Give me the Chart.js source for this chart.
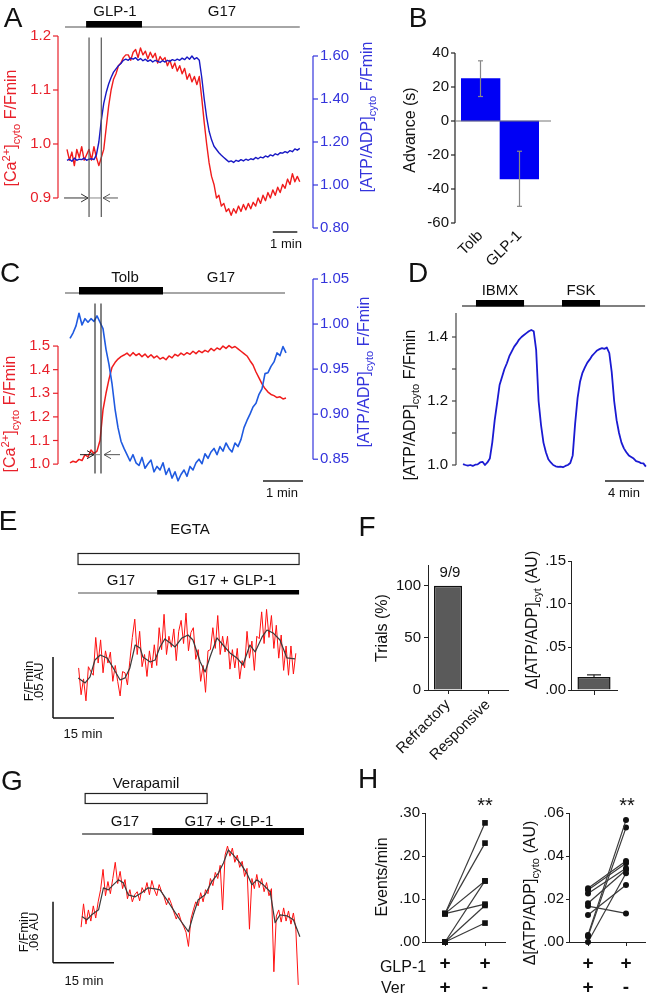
<!DOCTYPE html>
<html><head><meta charset="utf-8">
<script src="https://cdn.jsdelivr.net/npm/chart.js@4/dist/chart.umd.min.js"></script>
<style>
html,body{margin:0;padding:0;background:#fff;}
body{width:656px;height:996px;position:relative;overflow:hidden;font-family:"Liberation Sans",Arial,Helvetica,sans-serif;}
canvas{position:absolute;}
.t{position:absolute;white-space:nowrap;transform:translate(-50%,-50%);line-height:1;}
.r{transform:translate(-50%,-50%) rotate(-90deg);}
sub,sup{font-size:70%;line-height:0;}
</style></head><body>
<script>
// ---------------- DATA ----------------
// Panel A (sampled every 0.1 min)
const aDt = 0.1;
const aCa = [0.99,0.97,0.985,0.96,0.99,0.975,0.995,0.97,0.98,0.99,
 0.97,0.995,0.975,0.96,0.975,0.99,1.03,1.07,1.1,1.12,
 1.13,1.145,1.15,1.16,1.165,1.165,1.155,1.17,1.175,1.16,
 1.178,1.165,1.172,1.158,1.17,1.16,1.168,1.15,1.162,1.155,
 1.16,1.145,1.155,1.14,1.15,1.135,1.145,1.13,1.14,1.12,
 1.13,1.115,1.125,1.11,1.125,1.085,1.04,1.0,0.965,0.94,
 0.925,0.9,0.905,0.885,0.89,0.875,0.88,0.868,0.88,0.872,
 0.885,0.875,0.888,0.878,0.89,0.88,0.892,0.885,0.9,0.89,
 0.905,0.895,0.91,0.9,0.915,0.905,0.92,0.91,0.925,0.918,
 0.935,0.925,0.945,0.93,0.94,0.93];
const aAtp = [1.115,1.12,1.11,1.125,1.115,1.12,1.118,1.125,1.115,1.12,1.122,1.118,
 1.14,1.2,1.3,1.38,1.43,1.47,1.5,1.525,1.54,1.555,1.565,1.58,
 1.585,1.58,1.59,1.585,1.592,1.58,1.588,1.578,1.585,1.575,1.582,1.572,1.58,1.575,1.57,1.578,
 1.572,1.58,1.575,1.583,1.578,1.585,1.58,1.59,1.583,1.595,1.585,1.6,1.585,1.592,
 1.58,1.5,1.4,1.315,1.25,1.21,1.18,1.165,1.15,1.138,1.128,1.118,1.108,
 1.112,1.105,1.115,1.11,1.118,1.112,1.12,1.115,1.122,1.118,1.128,1.122,1.13,1.126,1.135,1.13,
 1.14,1.135,1.145,1.14,1.15,1.148,1.155,1.15,1.16,1.155,1.168,1.162,1.17];
const aRedTicks = [0.9,1.0,1.1,1.2];
const aBlueTicks = [0.8,1.0,1.2,1.4,1.6];
const aBase = [-0.08, 9.5], aGlp = [0.78, 3.06], aMarks = [0.9, 1.4], aScale = [8.4, 9.4];

// Panel B
const bCats = ['Tolb','GLP-1'];
const bMeans = [24.9, -34];
const bErr = [10.5, 16.2];
const bTicks = [40,20,0,-20,-40,-60];

// Panel C (sampled every 0.075 min)
const cDt = 0.075;
const cAtp = [0.984,0.99,0.998,1.012,0.999,1.006,1.002,1.006,1.003,1.009,
 1.002,0.995,0.972,0.955,0.934,0.906,0.885,0.87,0.862,0.855,
 0.848,0.855,0.846,0.843,0.852,0.84,0.845,0.849,0.836,0.842,
 0.838,0.846,0.833,0.84,0.829,0.836,0.826,0.833,0.838,0.831,
 0.842,0.838,0.846,0.85,0.845,0.856,0.851,0.858,0.862,0.855,
 0.864,0.859,0.868,0.862,0.858,0.868,0.864,0.872,0.885,0.893,
 0.9,0.908,0.912,0.922,0.928,0.945,0.946,0.953,0.958,0.968,
 0.965,0.975,0.968];
const cCa = [1.005,1.012,1.008,1.02,1.015,1.04,1.03,1.06,1.045,1.055,
 1.1,1.23,1.3,1.36,1.41,1.43,1.445,1.455,1.462,1.47,
 1.458,1.472,1.46,1.468,1.455,1.466,1.452,1.463,1.45,1.458,
 1.445,1.452,1.442,1.458,1.45,1.465,1.458,1.47,1.462,1.472,
 1.465,1.478,1.468,1.48,1.472,1.482,1.475,1.49,1.48,1.492,
 1.485,1.5,1.49,1.502,1.492,1.498,1.488,1.478,1.468,1.458,
 1.438,1.42,1.39,1.365,1.34,1.32,1.305,1.295,1.29,1.282,
 1.285,1.276,1.28];
const cRedTicks = [1.0,1.1,1.2,1.3,1.4,1.5];
const cBlueTicks = [0.85,0.9,0.95,1.0,1.05];
const cBase = [-0.125, 5.375], cTolb = [0.225, 2.325], cMarks = [0.625, 0.775], cScale = [4.825, 5.825];

// Panel D (sampled every 0.25 min)
const dDt = 0.25;
const dAtp = [1.003,1.0,0.998,1.0,0.997,1.001,1.002,1.008,1.01,1.0,
 1.008,1.02,1.07,1.14,1.194,1.25,1.275,1.3,1.318,1.34,
 1.355,1.37,1.38,1.392,1.4,1.406,1.412,1.418,1.422,1.418,
 1.36,1.2,1.125,1.07,1.04,1.018,1.008,1.0,0.996,0.994,
 0.995,0.993,0.997,1.0,1.006,1.03,1.13,1.21,1.26,1.288,
 1.305,1.32,1.33,1.342,1.35,1.358,1.362,1.365,1.363,1.367,
 1.35,1.29,1.2,1.14,1.1,1.07,1.052,1.04,1.03,1.025,
 1.02,1.012,1.01,1.006,1.005,0.995];
const dTicks = [1.0,1.1,1.2,1.3,1.4];
const dBase = [-0.1, 18.67], dIbmx = [1.33, 6.26], dFsk = [10.15, 14.05], dScale = [14.56, 18.56];

// Panel E (raw sampled every 0.6 min; smoothed curve)
const eDt = 0.6;
const eRaw = [1.041,1.019,1.032,1.014,1.042,1.038,1.035,1.066,1.045,1.064,
 1.037,1.055,1.045,1.054,1.030,1.043,1.030,1.018,1.038,1.037,
 1.027,1.047,1.066,1.081,1.052,1.071,1.042,1.052,1.034,1.055,
 1.041,1.060,1.043,1.074,1.056,1.085,1.052,1.067,1.058,1.073,
 1.047,1.071,1.080,1.061,1.086,1.055,1.070,1.074,1.048,1.056,
 1.030,1.043,1.021,1.055,1.056,1.074,1.057,1.084,1.052,1.067,
 1.054,1.067,1.040,1.056,1.041,1.057,1.032,1.047,1.041,1.071,
 1.049,1.063,1.039,1.067,1.065,1.087,1.061,1.089,1.066,1.084,
 1.057,1.076,1.049,1.068,1.039,1.059,1.035,1.059,1.036,1.053];
const eSmoothT = [-0.1,1.6,2.8,4.0,5.3,7.0,8.5,10.2,11.4,12.6,13.9,15.1,15.8,17.6,18.8,20.0,21.2,22.5,23.7,25.4,26.9,28.1,29.9,31.1,32.3,34.0,35.5,37.2,38.9,40.4,42.1,43.4,45.1,46.3,47.8,49.5,51.2,53.2];
const eSmoothV = [1.0328,1.0287,1.0336,1.0475,1.0516,1.0492,1.041,1.0311,1.0328,1.041,1.0598,1.0574,1.05,1.0459,1.0475,1.0582,1.0648,1.0615,1.0582,1.0656,1.068,1.0639,1.0459,1.0377,1.05,1.0656,1.0598,1.0533,1.0492,1.0434,1.0598,1.0541,1.0664,1.0721,1.0697,1.0639,1.0492,1.0484];
const eEgta = [-0.15, 54.2], eBase = [-0.15, 54.2], eSwitch = 19.3, eScaleT = [-6.3, 8.7], eScaleV = [1.0, 1.05];

// Panel F
const fCats = ['Refractory','Responsive'];
const fPct = [100, 0];
const fTicks = [0,50,100];
const fDelta = [0.0151];
const fDeltaErr = [0.0025];
const fDeltaTicks = [0,0.05,0.10,0.15];

// Panel G
const gDt = 0.6;
const gRaw = [1.035,1.058,1.038,1.052,1.041,1.056,1.044,1.06,1.072,1.092,
 1.066,1.08,1.068,1.083,1.099,1.078,1.09,1.073,1.082,1.063,
 1.072,1.06,1.067,1.07,1.061,1.074,1.069,1.079,1.067,1.081,
 1.072,1.066,1.077,1.07,1.065,1.057,1.064,1.058,1.05,1.043,
 1.049,1.041,1.036,1.03,1.016,1.043,1.052,1.06,1.056,1.069,
 1.06,1.072,1.068,1.083,1.076,1.089,1.083,1.096,1.052,1.106,
 1.115,1.105,1.113,1.099,1.106,1.094,1.1,1.085,1.093,1.033,
 1.083,1.073,1.087,1.074,1.083,1.07,1.079,1.066,1.073,0.991,
 1.046,1.052,1.04,1.054,1.041,1.051,1.038,1.049,1.033,0.978];
const gSmoothT = [0.2,1.4,2.6,4.3,5.5,6.7,7.9,9.2,10.4,11.6,13.3,14.9,16.5,18.2,19.4,21.1,22.7,24.3,26.4,27.6,28.8,30.5,32.1,33.8,35.0,36.2,37.4,39.1,40.7,42.0,43.2,44.8,46.5,47.7,48.9,50.6,52.2,53.8];
const gSmoothV = [1.0456,1.0423,1.0472,1.0521,1.0738,1.0718,1.0767,1.0817,1.0787,1.0669,1.0649,1.0689,1.0738,1.0728,1.0718,1.062,1.0521,1.0423,1.0305,1.0472,1.062,1.0669,1.0797,1.0886,1.0984,1.1112,1.1063,1.0984,1.0886,1.0768,1.0817,1.0768,1.0699,1.0394,1.0472,1.0462,1.0423,1.0256];
const gVer = [1.0, 31.0], gBase = [0.25, 54.8], gSwitch = 17.5, gScaleT = [-6.9, 8.1], gScaleV = [1.0, 1.06];

// Panel H
const hCats = [['+','+'],['+','-']];
const hEvVer   = [0.066,0.066,0.066,0.066,0,0,0];
const hEvNoVer = [0.277,0.230,0.142,0.088,0.142,0.085,0.044];
const hEvTicks = [0,0.1,0.2,0.3];
const hAtpVer   = [0.0033,0.0026,0.0,0.025,0.0242,0.0226,0.018,0.0167,0.0126];
const hAtpNoVer = [0.0567,0.0532,0.032,0.0377,0.0366,0.0343,0.0335,0.0133,0.0265];
const hAtpTicks = [0,0.02,0.04,0.06];

// ---------------- STYLE ----------------
const RED = '#f01c1c', RED_TXT = '#e8202a';
const BLUE_A = '#1818c4', BLUE_TXT = '#3434dc';
const BLUE_C = '#1f5ae0';
const FONT = '"Liberation Sans", Arial, Helvetica, sans-serif';
Chart.defaults.font.family = FONT;
Chart.defaults.font.size = 15;
Chart.defaults.color = '#111';
Chart.defaults.plugins.legend.display = false;
Chart.defaults.plugins.tooltip.enabled = false;

const ts = (vals, dt, t0 = 0) => vals.map((v, i) => ({x: t0 + i * dt, y: v}));
const xy = (xs, ys) => xs.map((x, i) => ({x, y: ys[i]}));
const noLead = d => v => v.toFixed(d).replace(/^0/, '').replace(/^-0/, '-');

function mk(left, top, w, h, config) {
  const c = document.createElement('canvas');
  c.width = w; c.height = h;
  c.style.left = left + 'px'; c.style.top = top + 'px';
  c.style.width = w + 'px'; c.style.height = h + 'px';
  document.body.appendChild(c);
  config.options = Object.assign({responsive: false, animation: false, devicePixelRatio: 1, events: []}, config.options);
  return new Chart(c.getContext('2d'), config);
}
function yAxis({min, max, ticks, width, pos = 'left', color = '#111', fmt, pad = 6}) {
  return {type: 'linear', position: pos, min, max,
    grid: {display: false, drawTicks: false}, border: {display: false},
    ticks: {color, padding: pad, autoSkip: false, callback: fmt || (v => v)},
    afterBuildTicks: s => { s.ticks = ticks.map(v => ({value: v})); },
    afterFit: s => { s.width = width; }};
}
function seg(ctx, x1, y1, x2, y2, color, lw) {
  ctx.save(); ctx.strokeStyle = color; ctx.lineWidth = lw; ctx.beginPath();
  ctx.moveTo(x1, y1); ctx.lineTo(x2, y2); ctx.stroke(); ctx.restore();
}
function rect(ctx, x1, y1, x2, y2, fill, stroke, lw) {
  ctx.save();
  if (fill) { ctx.fillStyle = fill; ctx.fillRect(x1, y1, x2 - x1, y2 - y1); }
  if (stroke) { ctx.strokeStyle = stroke; ctx.lineWidth = lw || 1; ctx.strokeRect(x1, y1, x2 - x1, y2 - y1); }
  ctx.restore();
}
function arrow(ctx, xFrom, xTo, y, color) {
  seg(ctx, xFrom, y, xTo, y, color, 1);
  const d = xTo > xFrom ? -1 : 1;
  seg(ctx, xTo, y, xTo + d * 7, y - 4, color, 1);
  seg(ctx, xTo, y, xTo + d * 7, y + 4, color, 1);
}
function spine(ch, id, {x, from, to, ticks, len = 5, color = '#222', side = 'left', lw = 1.2}) {
  const s = ch.scales[id], ctx = ch.ctx;
  const xx = Math.round(x);
  seg(ctx, xx, s.getPixelForValue(from), xx, s.getPixelForValue(to), color, lw);
  const d = side === 'left' ? -len : len;
  ticks.forEach(v => { const y = s.getPixelForValue(v); seg(ctx, xx, y, xx + d, y, color, lw); });
}
function txt(x, y, html, o = {}) {
  const d = document.createElement('div');
  d.className = 't' + (o.rot ? ' r' : '');
  d.style.left = x + 'px'; d.style.top = y + 'px';
  d.style.fontSize = (o.size || 15) + 'px';
  d.style.color = o.color || '#111';
  if (o.weight) d.style.fontWeight = o.weight;
  d.innerHTML = html;
  document.body.appendChild(d);
}
const lineEl = {point: {radius: 0}, line: {tension: 0, borderJoinStyle: 'round'}};

// ---------------- PANEL A ----------------
mk(0, 0, 360, 250, {
  type: 'line',
  data: {datasets: [
    {data: ts(aAtp, aDt), yAxisID: 'yB', borderColor: BLUE_A, borderWidth: 1.4},
    {data: ts(aCa, aDt), yAxisID: 'yR', borderColor: RED, borderWidth: 1.4}
  ]},
  options: {
    layout: {padding: {top: 36, bottom: 22, left: 0, right: 0}, autoPadding: false},
    elements: lineEl,
    scales: {
      x: {type: 'linear', min: -0.367, max: 10.04, display: false},
      yR: yAxis({min: 0.8444, max: 1.2, ticks: aRedTicks, width: 58, color: RED_TXT, fmt: v => v.toFixed(1), pad: 7}),
      yB: yAxis({pos: 'right', min: 0.8, max: 1.693, ticks: aBlueTicks, width: 47, color: BLUE_TXT, fmt: v => v.toFixed(2), pad: 7})
    }
  },
  plugins: [{id: 'aDeco', afterDatasetsDraw(ch) {
    const ctx = ch.ctx, X = ch.scales.x, R = ch.scales.yR, ca = ch.chartArea;
    const px = v => X.getPixelForValue(v);
    spine(ch, 'yR', {x: ca.left, from: 0.9, to: 1.2, ticks: aRedTicks, color: RED_TXT});
    spine(ch, 'yB', {x: ca.right, from: 0.8, to: 1.6, ticks: aBlueTicks, color: BLUE_TXT, side: 'right'});
    seg(ctx, px(aBase[0]), 27, px(aBase[1]), 27, '#888', 1.5);
    rect(ctx, px(aGlp[0]), 21, px(aGlp[1]), 27.5, '#000');
    aMarks.forEach(t => seg(ctx, px(t), R.getPixelForValue(1.197), px(t), R.getPixelForValue(0.865), '#555', 1.2));
    const ya = R.getPixelForValue(0.9);
    seg(ctx, px(aMarks[0]), ya, px(aMarks[1]), ya, '#888', 1);
    arrow(ctx, px(-0.12), px(0.86), ya, '#333');
    arrow(ctx, px(2.08), px(1.47), ya, '#555');
    seg(ctx, px(aScale[0]), 232, px(aScale[1]), 232, '#222', 1.5);
  }}]
});

// ---------------- PANEL B ----------------
mk(400, 0, 256, 290, {
  type: 'bar',
  data: {labels: bCats, datasets: [{data: bMeans, backgroundColor: '#0000f5', borderWidth: 0, barPercentage: 1, categoryPercentage: 1}]},
  options: {
    layout: {padding: {top: 53, bottom: 0, left: 0, right: 117}, autoPadding: false},
    scales: {
      x: {grid: {display: false, drawTicks: false}, border: {display: false},
          ticks: {minRotation: 45, maxRotation: 45, padding: 4, autoSkip: false},
          afterFit: s => { s.height = 67; }},
      y: yAxis({min: -60, max: 40, ticks: bTicks, width: 61, pad: 12})
    }
  },
  plugins: [{id: 'bDeco', afterDatasetsDraw(ch) {
    const ctx = ch.ctx, Y = ch.scales.y, ca = ch.chartArea;
    spine(ch, 'y', {x: ca.left - 6, from: -60, to: 40, ticks: bTicks, len: 4, color: '#222'});
    seg(ctx, ca.left - 6, Y.getPixelForValue(0), ca.right + 12, Y.getPixelForValue(0), '#777', 1);
    const meta = ch.getDatasetMeta(0);
    bMeans.forEach((m, i) => {
      const x = meta.data[i].x, y1 = Y.getPixelForValue(m - bErr[i]), y2 = Y.getPixelForValue(m + bErr[i]);
      seg(ctx, x, y1, x, y2, '#888', 1.2);
      seg(ctx, x - 2.5, y1, x + 2.5, y1, '#888', 1.2);
      seg(ctx, x - 2.5, y2, x + 2.5, y2, '#888', 1.2);
    });
  }}]
});

// ---------------- PANEL C ----------------
mk(0, 260, 360, 240, {
  type: 'line',
  data: {datasets: [
    {data: ts(cAtp, cDt), yAxisID: 'yB', borderColor: BLUE_C, borderWidth: 1.6},
    {data: ts(cCa, cDt), yAxisID: 'yR', borderColor: RED, borderWidth: 1.5}
  ]},
  options: {
    layout: {padding: {top: 19, bottom: 5, left: 0, right: 0}, autoPadding: false},
    elements: lineEl,
    scales: {
      x: {type: 'linear', min: -0.3, max: 6.075, display: false},
      yR: yAxis({min: 0.92, max: 1.784, ticks: cRedTicks, width: 58, color: RED_TXT, fmt: v => v.toFixed(1), pad: 8}),
      yB: yAxis({pos: 'right', min: 0.8236, max: 1.05, ticks: cBlueTicks, width: 47, color: BLUE_TXT, fmt: v => v.toFixed(2), pad: 7})
    }
  },
  plugins: [{id: 'cDeco', afterDatasetsDraw(ch) {
    const ctx = ch.ctx, X = ch.scales.x, R = ch.scales.yR, ca = ch.chartArea;
    const px = v => X.getPixelForValue(v);
    spine(ch, 'yR', {x: ca.left, from: 1.0, to: 1.5, ticks: cRedTicks, color: RED_TXT});
    spine(ch, 'yB', {x: ca.right, from: 0.85, to: 1.05, ticks: cBlueTicks, color: BLUE_TXT, side: 'right'});
    seg(ctx, px(cBase[0]), 33, px(cBase[1]), 33, '#888', 1.5);
    rect(ctx, px(cTolb[0]), 27, px(cTolb[1]), 34.5, '#000');
    cMarks.forEach(t => seg(ctx, px(t), R.getPixelForValue(1.68), px(t), R.getPixelForValue(0.96), '#333', 1.2));
    const ya = R.getPixelForValue(1.04);
    seg(ctx, px(cMarks[0]), ya, px(cMarks[1]), ya, '#888', 1);
    arrow(ctx, px(0.25), px(0.6), ya, '#222');
    arrow(ctx, px(1.25), px(0.85), ya, '#555');
    seg(ctx, px(cScale[0]), 221, px(cScale[1]), 221, '#222', 1.5);
  }}]
});

// ---------------- PANEL D ----------------
mk(400, 270, 256, 230, {
  type: 'line',
  data: {datasets: [{data: ts(dAtp, dDt), borderColor: '#1a1ad2', borderWidth: 1.8}]},
  options: {
    layout: {padding: {top: 43, bottom: 30, left: 0, right: 8}, autoPadding: false},
    elements: lineEl,
    scales: {
      x: {type: 'linear', min: -0.718, max: 18.97, display: false},
      y: yAxis({min: 0.984375, max: 1.475, ticks: dTicks, width: 56, fmt: v => (Math.round(v * 10) % 2 === 0 ? v.toFixed(1) : ''), pad: 8})
    }
  },
  plugins: [{id: 'dDeco', afterDatasetsDraw(ch) {
    const ctx = ch.ctx, X = ch.scales.x, ca = ch.chartArea;
    const px = v => X.getPixelForValue(v);
    spine(ch, 'y', {x: ca.left, from: 1.0, to: 1.475, ticks: dTicks, len: 4, color: '#444'});
    seg(ctx, px(dBase[0]), 36, px(dBase[1]), 36, '#555', 1.5);
    rect(ctx, px(dIbmx[0]), 30, px(dIbmx[1]), 36.5, '#000');
    rect(ctx, px(dFsk[0]), 30, px(dFsk[1]), 36.5, '#000');
    seg(ctx, px(dScale[0]), 211, px(dScale[1]), 211, '#222', 1.5);
  }}]
});

// ---------------- PANEL E ----------------
mk(0, 510, 330, 230, {
  type: 'line',
  data: {datasets: [
    {data: xy(eSmoothT, eSmoothV), borderColor: '#3a3a3a', borderWidth: 1.2},
    {data: ts(eRaw, eDt), borderColor: '#ff1010', borderWidth: 1}
  ]},
  options: {
    layout: {padding: {top: 86, bottom: 16, left: 40, right: 24}, autoPadding: false},
    elements: lineEl,
    scales: {
      x: {type: 'linear', min: -9.5, max: 55.9, display: false},
      y: {type: 'linear', min: 0.995, max: 1.1, display: false}
    }
  },
  plugins: [{id: 'eDeco', afterDatasetsDraw(ch) {
    const ctx = ch.ctx, X = ch.scales.x, Y = ch.scales.y;
    const px = v => X.getPixelForValue(v), py = v => Y.getPixelForValue(v);
    rect(ctx, px(eEgta[0]), 43.5, px(eEgta[1]), 54.5, '#fff', '#222', 1.2);
    seg(ctx, px(eBase[0]), 83, px(eSwitch), 83, '#888', 1.5);
    rect(ctx, px(eSwitch), 80, px(eBase[1]), 84.5, '#000');
    seg(ctx, px(eScaleT[0]), py(eScaleV[0]), px(eScaleT[0]), py(eScaleV[1]), '#111', 1.5);
    seg(ctx, px(eScaleT[0]), py(eScaleV[0]), px(eScaleT[1]), py(eScaleV[0]), '#111', 1.5);
  }}]
});

// ---------------- PANEL F ----------------
const axGrid = {display: true, drawOnChartArea: false, drawTicks: true, tickLength: 4, color: '#222'};
mk(330, 540, 190, 230, {
  type: 'bar',
  data: {labels: fCats, datasets: [{data: fPct, backgroundColor: '#5a5a5a', borderColor: '#111', borderWidth: 1.5, barPercentage: 0.7, categoryPercentage: 1}]},
  options: {
    layout: {padding: {top: 25, bottom: 0, left: 0, right: 12}, autoPadding: false},
    scales: {
      x: {grid: Object.assign({}, axGrid, {offset: false}), border: {display: true, color: '#222'},
          ticks: {minRotation: 45, maxRotation: 45, padding: 2, autoSkip: false},
          afterFit: s => { s.height = 80; }},
      y: {min: 0, max: 120, grid: axGrid, border: {display: true, color: '#222'},
          ticks: {padding: 3, autoSkip: false},
          afterBuildTicks: s => { s.ticks = fTicks.map(v => ({value: v})); },
          afterFit: s => { s.width = 98; }}
    }
  }
});
mk(520, 540, 136, 230, {
  type: 'bar',
  data: {labels: [''], datasets: [{data: fDelta, backgroundColor: '#5a5a5a', borderColor: '#111', borderWidth: 1.5, barPercentage: 0.72, categoryPercentage: 1}]},
  options: {
    layout: {padding: {top: 21, bottom: 0, left: 0, right: 39}, autoPadding: false},
    scales: {
      x: {grid: Object.assign({}, axGrid, {offset: false, tickLength: 5}), border: {display: true, color: '#222'},
          ticks: {display: true, padding: 2}, afterFit: s => { s.height = 80; }},
      y: {min: 0, max: 0.15, grid: Object.assign({}, axGrid, {tickLength: 3}), border: {display: true, color: '#222'},
          ticks: {padding: 2, autoSkip: false, callback: noLead(2)},
          afterBuildTicks: s => { s.ticks = fDeltaTicks.map(v => ({value: v})); },
          afterFit: s => { s.width = 51; }}
    }
  },
  plugins: [{id: 'fErr', afterDatasetsDraw(ch) {
    const ctx = ch.ctx, Y = ch.scales.y, meta = ch.getDatasetMeta(0);
    fDelta.forEach((m, i) => {
      const x = meta.data[i].x, y1 = Y.getPixelForValue(m), y2 = Y.getPixelForValue(m + fDeltaErr[i]);
      seg(ctx, x, y1, x, y2, '#222', 1.2);
      seg(ctx, x - 7, y2, x + 7, y2, '#222', 1.2);
    });
  }}]
});

// ---------------- PANEL G ----------------
mk(0, 770, 330, 226, {
  type: 'line',
  data: {datasets: [
    {data: xy(gSmoothT, gSmoothV), borderColor: '#3a3a3a', borderWidth: 1.2},
    {data: ts(gRaw, gDt), borderColor: '#ff1010', borderWidth: 1}
  ]},
  options: {
    layout: {padding: {top: 70, bottom: 6, left: 40, right: 24}, autoPadding: false},
    elements: lineEl,
    scales: {
      x: {type: 'linear', min: -10.1, max: 55.3, display: false},
      y: {type: 'linear', min: 0.973, max: 1.121, display: false}
    }
  },
  plugins: [{id: 'gDeco', afterDatasetsDraw(ch) {
    const ctx = ch.ctx, X = ch.scales.x, Y = ch.scales.y;
    const px = v => X.getPixelForValue(v), py = v => Y.getPixelForValue(v);
    rect(ctx, px(gVer[0]), 23.5, px(gVer[1]), 33.5, '#fff', '#222', 1.2);
    seg(ctx, px(gBase[0]), 64, px(gSwitch), 64, '#555', 1.3);
    rect(ctx, px(gSwitch), 58, px(gBase[1]), 65, '#000');
    seg(ctx, px(gScaleT[0]), py(gScaleV[0]), px(gScaleT[0]), py(gScaleV[1]), '#111', 1.5);
    seg(ctx, px(gScaleT[0]), py(gScaleV[0]), px(gScaleT[1]), py(gScaleV[0]), '#111', 1.5);
  }}]
});

// ---------------- PANEL H ----------------
function hChart(left, w, padRight, yW, ticks, max, ver, noVer, style, radius) {
  return mk(left, 790, w, 206, {
    type: 'line',
    data: {labels: hCats, datasets: ver.map((v, i) => ({
      data: [v, noVer[i]], borderColor: '#3a3a3a', borderWidth: 1.2, clip: false,
      pointStyle: style, pointRadius: radius, pointBackgroundColor: '#111', pointBorderWidth: 0}))},
    options: {
      layout: {padding: {top: 23, bottom: 0, left: 0, right: padRight}, autoPadding: false},
      elements: {line: {tension: 0}},
      scales: {
        x: {type: 'category', offset: true, grid: Object.assign({}, axGrid, {offset: false}), border: {display: true, color: '#222'},
            ticks: {padding: 5, autoSkip: false, font: {size: 19, weight: 'bold', lineHeight: 1.3}},
            afterFit: s => { s.height = 54; }},
        y: {min: 0, max, grid: Object.assign({}, axGrid, {tickLength: 3}), border: {display: true, color: '#222'},
            ticks: {padding: 2, autoSkip: false, callback: noLead(2)},
            afterBuildTicks: s => { s.ticks = ticks.map(v => ({value: v})); },
            afterFit: s => { s.width = yW; }}
      }
    }
  });
}
hChart(330, 180, 5, 95, hEvTicks, 0.3, hEvVer, hEvNoVer, 'rect', 4);
hChart(510, 146, 11, 59, hAtpTicks, 0.06, hAtpVer, hAtpNoVer, 'circle', 3);

// ---------------- TEXT ----------------
const L = 28;
txt(13, 18, 'A', {size: L}); txt(418, 18, 'B', {size: L}); txt(10, 273, 'C', {size: L}); txt(418, 273, 'D', {size: L});
txt(8, 521, 'E', {size: L}); txt(367, 527, 'F', {size: L}); txt(12, 781, 'G', {size: L}); txt(368, 779, 'H', {size: L});
// A
txt(115, 10, 'GLP-1'); txt(222, 10, 'G17'); txt(286, 243, '1 min', {size: 13});
txt(11, 128, '[Ca<sup>2+</sup>]<sub>cyto</sub> F/Fmin', {rot: 1, size: 16, color: RED_TXT});
txt(367, 117, '[ATP/ADP]<sub>cyto</sub> F/Fmin', {rot: 1, size: 16, color: BLUE_TXT});
// B
txt(410, 130, 'Advance (s)', {rot: 1, size: 16});
// C
txt(125, 276, 'Tolb'); txt(221, 276, 'G17'); txt(282, 492, '1 min', {size: 13});
txt(10, 414, '[Ca<sup>2+</sup>]<sub>cyto</sub> F/Fmin', {rot: 1, size: 16, color: RED_TXT});
txt(364, 372, '[ATP/ADP]<sub>cyto</sub> F/Fmin', {rot: 1, size: 16, color: BLUE_TXT});
// D
txt(500, 289, 'IBMX'); txt(581, 289, 'FSK'); txt(624, 492, '4 min', {size: 13});
txt(410, 405, '[ATP/ADP]<sub>cyto</sub> F/Fmin', {rot: 1, size: 16});
// E
txt(190, 528, 'EGTA'); txt(121, 579, 'G17'); txt(232, 579, 'G17 + GLP-1');
txt(28, 681, 'F/Fmin', {rot: 1, size: 13}); txt(38, 682, '.05 AU', {rot: 1, size: 13}); txt(83, 733, '15 min', {size: 13});
// F
txt(450, 571, '9/9'); txt(382, 628, 'Trials (%)', {rot: 1, size: 16});
txt(532, 620, 'Δ[ATP/ADP]<sub>cyt</sub> (AU)', {rot: 1, size: 16});
// G
txt(146, 782, 'Verapamil'); txt(125, 820, 'G17'); txt(229, 820, 'G17 + GLP-1');
txt(23, 932, 'F/Fmin', {rot: 1, size: 13}); txt(33, 932, '.06 AU', {rot: 1, size: 13}); txt(84, 980, '15 min', {size: 13});
// H
txt(485, 805, '**', {size: 20}); txt(627, 805, '**', {size: 20});
txt(382, 877, 'Events/min', {rot: 1, size: 16});
txt(530, 893, 'Δ[ATP/ADP]<sub>cyto</sub> (AU)', {rot: 1, size: 16});
txt(403, 967, 'GLP-1', {size: 16}); txt(393, 988, 'Ver', {size: 16});
</script>
</body></html>
